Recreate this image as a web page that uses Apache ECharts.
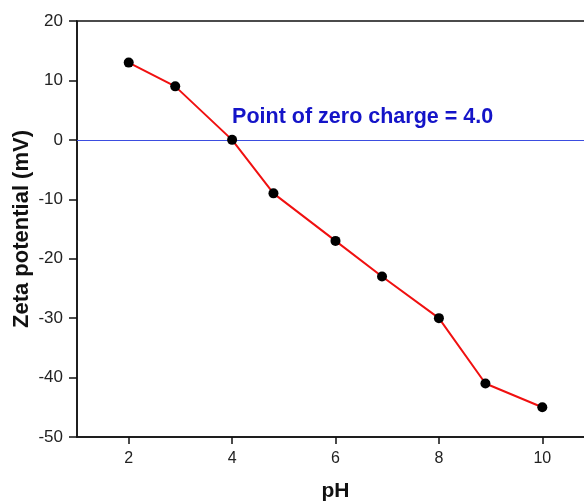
<!DOCTYPE html>
<html>
<head>
<meta charset="utf-8">
<script src="https://cdn.jsdelivr.net/npm/echarts@6/dist/echarts.min.js"></script>
<style>
  html, body { margin: 0; padding: 0; background: #fff; }
  #chart { width: 584px; height: 502px; }
</style>
</head>
<body>
<div id="chart"></div>
<script>
  // pH vs zeta potential readings
  const phValues = [2, 2.9, 4, 4.8, 6, 6.9, 8, 8.9, 10];
  const zetaValues = [13, 9, 0, -9, -17, -23, -30, -41, -45];
  const xTicks = [2, 4, 6, 8, 10];
  const pzcLabel = 'Point of zero charge = 4.0';
  const pzcAt = [4, 3.8];

  const font = 'Liberation Sans, Arial, sans-serif';
  const chart = echarts.init(document.getElementById('chart'));

  const option = {
    animation: false,
    grid: {
      left: 77, top: 21, bottom: 65, right: -10,
      outerBoundsMode: 'none',
      show: true, borderColor: '#111', borderWidth: 1.5
    },
    xAxis: {
      type: 'value',
      min: 1, max: 11,
      name: 'pH',
      nameLocation: 'middle',
      nameGap: 44,
      nameTextStyle: { fontFamily: font, fontSize: 21, fontWeight: 'bold', color: '#111' },
      axisLine: { show: true, onZero: false, lineStyle: { color: '#111', width: 1.5 } },
      axisTick: { show: true, length: 7, customValues: xTicks, lineStyle: { color: '#111', width: 1.5 } },
      axisLabel: { customValues: xTicks, margin: 14, fontFamily: font, fontSize: 16, color: '#222' },
      splitLine: { show: false }
    },
    yAxis: {
      type: 'value',
      min: -50, max: 20, interval: 10,
      name: 'Zeta potential (mV)',
      nameLocation: 'middle',
      nameGap: 44,
      nameMoveOverlap: false,
      nameTextStyle: { fontFamily: font, fontSize: 22, fontWeight: 'bold', color: '#111' },
      axisLine: { show: true, onZero: false, lineStyle: { color: '#111', width: 1.5 } },
      axisTick: { show: true, length: 8, lineStyle: { color: '#111', width: 1.5 } },
      axisLabel: { margin: 14, fontFamily: font, fontSize: 17, color: '#222' },
      splitLine: { show: false }
    },
    series: [{
      type: 'line',
      data: phValues.map((x, i) => [x, zetaValues[i]]),
      symbol: 'circle',
      symbolSize: 10,
      itemStyle: { color: '#000' },
      lineStyle: { color: '#f01010', width: 2 },
      z: 3,
      markLine: {
        silent: true,
        symbol: 'none',
        label: { show: false },
        lineStyle: { color: '#3b4de0', width: 1, type: 'solid' },
        data: [{ yAxis: 0 }],
        z: 1
      },
      markPoint: {
        silent: true,
        symbol: 'circle',
        symbolSize: 0,
        data: [{ coord: pzcAt }],
        label: {
          show: true,
          position: 'right',
          distance: 0,
          formatter: pzcLabel,
          fontFamily: font,
          fontSize: 21.5,
          fontWeight: 'bold',
          color: '#1414c8'
        }
      }
    }]
  };
  chart.setOption(option);
</script>
</body>
</html>
